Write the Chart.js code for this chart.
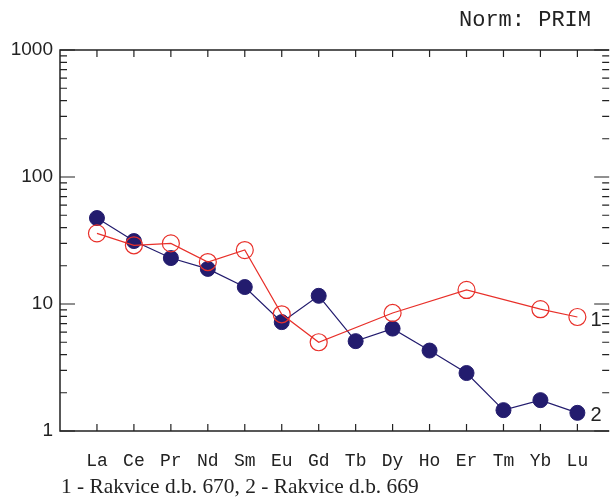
<!DOCTYPE html>
<html>
<head>
<meta charset="utf-8">
<script src="https://cdn.jsdelivr.net/npm/chart.js@4"></script>
<style>
  html, body { margin: 0; padding: 0; background: #fff; }
  #wrap { width: 610px; height: 497px; position: relative; }
</style>
</head>
<body>
<div id="wrap"><canvas id="chart"></canvas></div>
<script>
const elements = ["La", "Ce", "Pr", "Nd", "Sm", "Eu", "Gd", "Tb", "Dy", "Ho", "Er", "Tm", "Yb", "Lu"]
const sample670 = [36, 29, 30, 21.4, 26.6, 8.3, 5.0, null, 8.5, null, 12.9, null, 9.1, 7.9]
const sample669 = [47.5, 31.3, 23, 18.9, 13.6, 7.2, 11.6, 5.1, 6.4, 4.3, 2.86, 1.46, 1.75, 1.39]
const yLabels = [1, 10, 100, 1000]
const seriesTags = ["1", "2"]

const axisColor = "#222"
const red = "#e8302a"
const navy = "#231c6e"
// the frame continues past the chart area up to the canvas edge
const frameRight = 13.86

function toPoints(values) {
  return values.map((v, i) => ({ x: i, y: v }))
}

// frame, inward ticks, end labels and the footer
const decorations = {
  id: "decorations",
  afterDraw(chart) {
    const { ctx, chartArea: a, scales } = chart
    const x = scales.x, y = scales.y
    const right = x.getPixelForValue(frameRight)
    ctx.save()
    ctx.strokeStyle = axisColor
    ctx.lineWidth = 1.5
    ctx.beginPath()
    ctx.moveTo(right, a.top); ctx.lineTo(a.left, a.top)
    ctx.lineTo(a.left, a.bottom); ctx.lineTo(right, a.bottom)
    ctx.stroke()

    ctx.lineWidth = 1.2
    ctx.beginPath()
    elements.forEach((_, i) => {
      const px = x.getPixelForValue(i)
      ctx.moveTo(px, a.bottom); ctx.lineTo(px, a.bottom - 7)
      ctx.moveTo(px, a.top); ctx.lineTo(px, a.top + 7)
    })
    for (let d = 1; d < 1000; d *= 10) {
      for (let m = 1; m <= 10; m++) {
        const py = y.getPixelForValue(d * m)
        const len = (m === 1 || m === 10) ? 15 : 7
        ctx.moveTo(a.left, py); ctx.lineTo(a.left + len, py)
        ctx.moveTo(right, py); ctx.lineTo(right - len, py)
      }
    }
    ctx.stroke()

    ctx.fillStyle = axisColor
    ctx.font = "20px 'Liberation Sans', Arial, sans-serif"
    ctx.textBaseline = "middle"
    ctx.textAlign = "left"
    chart.data.datasets.forEach((ds, k) => {
      const last = ds.data[ds.data.length - 1]
      ctx.fillText(seriesTags[k], x.getPixelForValue(last.x) + 13, y.getPixelForValue(last.y) + 3)
    })

    ctx.font = "22px 'Liberation Mono', 'Courier New', monospace"
    ctx.textAlign = "right"
    ctx.textBaseline = "alphabetic"
    ctx.fillText("Norm: PRIM", 591, 26)

    ctx.font = "21.4px 'Liberation Serif', 'Times New Roman', serif"
    ctx.textAlign = "left"
    ctx.fillText("1 - Rakvice d.b. 670, 2 - Rakvice d.b. 669", 61, 493)
    ctx.restore()
  }
}

new Chart(document.getElementById("chart"), {
  type: "line",
  data: {
    datasets: [
      {
        label: "Rakvice d.b. 670",
        data: toPoints(sample670),
        borderColor: red,
        borderWidth: 1.2,
        pointRadius: 8.5,
        pointBorderWidth: 1.2,
        pointBorderColor: red,
        pointBackgroundColor: "rgba(0,0,0,0)",
        spanGaps: true,
      },
      {
        label: "Rakvice d.b. 669",
        data: toPoints(sample669),
        borderColor: navy,
        borderWidth: 1.2,
        pointRadius: 7.5,
        pointBorderWidth: 1,
        pointBorderColor: navy,
        pointBackgroundColor: navy,
      },
    ]
  },
  options: {
    responsive: true,
    maintainAspectRatio: false,
    animation: false,
    layout: { padding: { top: 50, right: 0, left: 0, bottom: 0 } },
    plugins: {
      legend: { display: false },
      tooltip: { enabled: false },
    },
    scales: {
      x: {
        type: "linear",
        min: -1,
        max: 13.62,
        grid: { display: false, drawTicks: false },
        border: { display: false },
        afterFit(scale) {
          scale.height = 66
        },
        afterBuildTicks(scale) {
          scale.ticks = elements.map((_, i) => ({ value: i }))
        },
        ticks: {
          padding: 19,
          color: axisColor,
          font: { family: "'Liberation Mono', 'Courier New', monospace", size: 18 },
          callback: (v) => elements[v] || "",
        }
      },
      y: {
        type: "logarithmic",
        min: 1,
        max: 1000,
        grid: { display: false, drawTicks: false },
        border: { display: false },
        afterFit(scale) {
          scale.width = 60
        },
        afterBuildTicks(scale) {
          scale.ticks = yLabels.map(v => ({ value: v }))
        },
        ticks: {
          padding: 7,
          color: axisColor,
          font: { family: "'Liberation Sans', Arial, sans-serif", size: 19 },
          callback: (v) => String(v),
        }
      }
    }
  },
  plugins: [decorations]
})
</script>
</body>
</html>
